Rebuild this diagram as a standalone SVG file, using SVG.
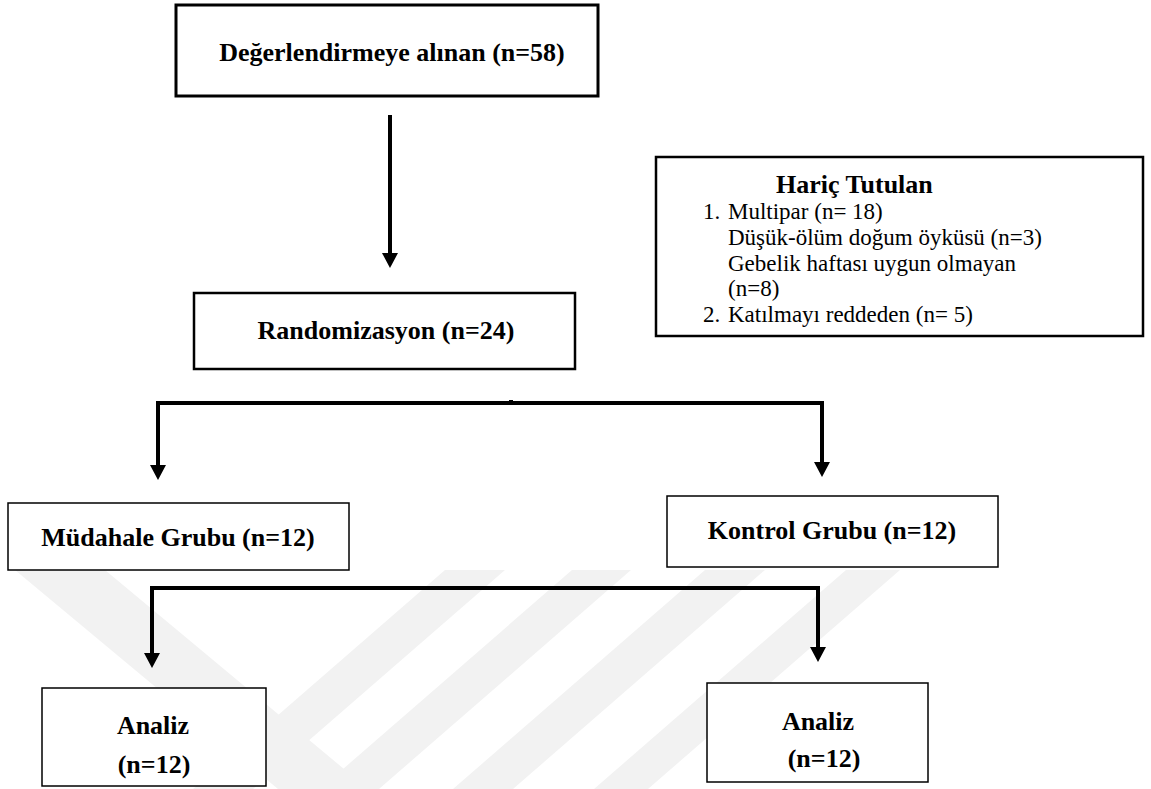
<svg xmlns="http://www.w3.org/2000/svg" width="1151" height="789" viewBox="0 0 1151 789">
<style>
.box{fill:#fff;stroke:#000}
.b{font-family:"Liberation Serif","Times New Roman",serif;font-weight:bold;font-size:26px;fill:#000}
.r{font-family:"Liberation Serif","Times New Roman",serif;font-size:23px;fill:#000}
.c{text-anchor:middle}
.conn{fill:none;stroke:#000;stroke-width:4;stroke-linejoin:miter}
.wm{fill:#f2f2f2}
</style>
<defs>
<marker id="ah" markerUnits="userSpaceOnUse" markerWidth="15" markerHeight="16" viewBox="0 0 15 16" refX="0" refY="8" orient="auto">
<path d="M0,0 L15,8 L0,16 z" fill="#000"/>
</marker>
</defs>
<rect width="1151" height="789" fill="#fff"/>
<g id="watermark">
<polygon class="wm" points="15,570 105,570 368,789 278,789"/>
<polygon class="wm" points="445,570 505,570 253,789 193,789"/>
<polygon class="wm" points="572,570 631,570 379,789 320,789"/>
<polygon class="wm" points="705,570 765,570 513,789 453,789"/>
<polygon class="wm" points="846,570 900,570 648,789 594,789"/>
</g>
<g id="connectors">
<path class="conn" d="M390,115 V253" marker-end="url(#ah)"/>
<path class="conn" d="M511,403 H158 V465" marker-end="url(#ah)"/>
<path class="conn" d="M511,403 H822 V462" marker-end="url(#ah)"/>
<rect x="509" y="400" width="4" height="4" fill="#000"/>
<path class="conn" d="M485,588 H152 V653" marker-end="url(#ah)"/>
<path class="conn" d="M485,588 H818 V647" marker-end="url(#ah)"/>
</g>
<g id="n-degerlendirme">
<rect class="box" x="176" y="5" width="422" height="91" stroke-width="3"/>
<text class="b c" x="392" y="61">Değerlendirmeye alınan (n=58)</text>
</g>
<g id="n-haric">
<rect class="box" x="656" y="157" width="487" height="179" stroke-width="2.5"/>
<text class="b" x="776" y="193">Hariç Tutulan</text>
<text class="r" x="703" y="219">1.</text>
<text class="r" x="728" y="219">Multipar (n= 18)</text>
<text class="r" x="728" y="245">Düşük-ölüm doğum öyküsü (n=3)</text>
<text class="r" x="728" y="271">Gebelik haftası uygun olmayan</text>
<text class="r" x="728" y="296">(n=8)</text>
<text class="r" x="703" y="322">2.</text>
<text class="r" x="728" y="322">Katılmayı reddeden (n= 5)</text>
</g>
<g id="n-randomizasyon">
<rect class="box" x="194" y="293" width="381" height="76" stroke-width="2.5"/>
<text class="b c" x="386" y="339">Randomizasyon (n=24)</text>
</g>
<g id="n-mudahale">
<rect class="box" x="8" y="503" width="341" height="67" stroke-width="1.5"/>
<text class="b c" x="178" y="546">Müdahale Grubu (n=12)</text>
</g>
<g id="n-kontrol">
<rect class="box" x="667" y="496" width="331" height="71" stroke-width="1.5"/>
<text class="b c" x="832" y="539">Kontrol Grubu (n=12)</text>
</g>
<g id="n-analiz-1">
<rect class="box" x="42" y="688" width="224" height="98" stroke-width="1.5"/>
<text class="b c" x="153" y="734">Analiz</text>
<text class="b c" x="154" y="773">(n=12)</text>
</g>
<g id="n-analiz-2">
<rect class="box" x="707" y="683" width="221" height="99" stroke-width="1.5"/>
<text class="b c" x="818" y="730">Analiz</text>
<text class="b c" x="824" y="767">(n=12)</text>
</g>
</svg>
